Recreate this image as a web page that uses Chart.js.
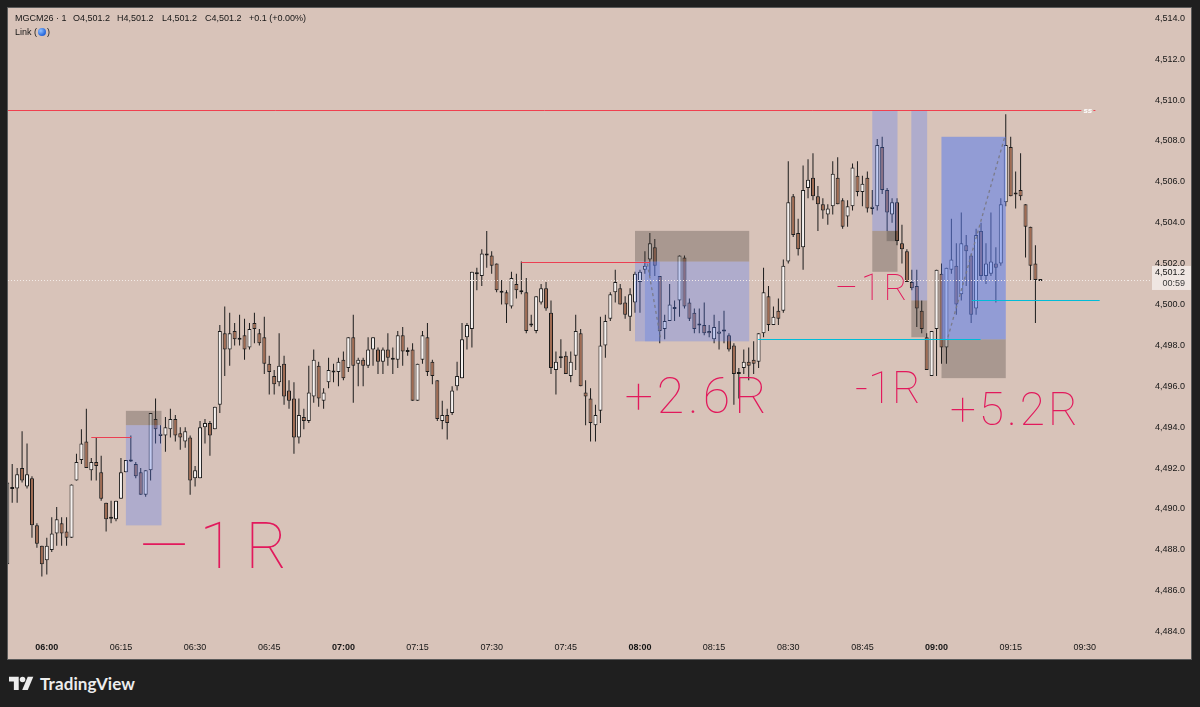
<!DOCTYPE html>
<html>
<head>
<meta charset="utf-8">
<script src="https://cdn.jsdelivr.net/npm/chart.js@4.4.1/dist/chart.umd.min.js"></script>
<style>
  body { margin: 0; width: 1200px; height: 707px; overflow: hidden; background: #1f1f1f; position: relative; font-family: "Liberation Sans", Arial, sans-serif; }
  #panel { position: absolute; left: 7px; top: 7px; width: 1183px; height: 651px; border: 1px solid #5a5a5a; background: #d8c3b9; }
  #c { position: absolute; left: 0; top: 0; }
  .lg { position: absolute; font-size: 9px; color: #161616; white-space: nowrap; line-height: 11px; }
  .dot { display: inline-block; width: 8px; height: 8px; border-radius: 50%; background: radial-gradient(circle at 35% 35%, #8fc0ff, #2f6fe0 60%, #1d4fb8); vertical-align: -1px; margin: 0 1px; }
  #logo { position: absolute; left: 9px; top: 675px; height: 16px; display: flex; align-items: center; color: #ececec; font-family: Lato, "Open Sans", sans-serif; font-weight: 700; font-size: 17px; letter-spacing: 0.1px; }
  #logo svg { margin-right: 6px; }
</style>
</head>
<body>
<div id="panel">
  <canvas id="c" width="1183" height="651"></canvas>
  <span class="lg" style="left:7px;top:5px">MGCM26 · 1</span>
  <span class="lg" style="left:65px;top:5px">O4,501.2</span>
  <span class="lg" style="left:109px;top:5px">H4,501.2</span>
  <span class="lg" style="left:154px;top:5px">L4,501.2</span>
  <span class="lg" style="left:197px;top:5px">C4,501.2</span>
  <span class="lg" style="left:241px;top:5px">+0.1 (+0.00%)</span>
  <span class="lg" style="left:7px;top:19px">Link (<span class="dot"></span>)</span>
</div>
<div id="logo">
  <svg width="25" height="14" viewBox="0 0 36 20"><path d="M14 20H7V8H0V1h14z" fill="#ececec"/><circle cx="19.5" cy="5" r="4" fill="#ececec"/><path d="M27 20h-8L27 1h8z" fill="#ececec"/></svg>
  TradingView
</div>
<script>
// MGCM26, 1 minute candles; minute 0 = 06:00
const firstMinute = -8;
const opens = [
  4487.3, 4491.0, 4491.0, 4492.0, 4491.1, 4491.5, 4489.2, 4488.2,
  4487.5, 4488.0, 4488.8, 4489.3, 4488.9, 4488.6, 4491.4, 4492.4, 4493.3, 4491.9,
  4492.3, 4491.8, 4490.3, 4489.6, 4489.5, 4490.5, 4491.8, 4492.35, 4492.2, 4491.8,
  4490.7, 4491.9, 4494.4, 4493.6, 4493.6, 4493.9, 4494.4, 4493.7, 4493.3, 4493.5,
  4491.5, 4491.5, 4494.0, 4494.2, 4493.9, 4495.1, 4498.6, 4497.8, 4498.7, 4498.3,
  4498.5, 4497.9, 4499.1, 4498.6, 4498.4, 4497.1, 4496.5, 4496.2, 4497.1, 4495.8,
  4495.4, 4493.5, 4494.5, 4494.3, 4495.5, 4497.0, 4495.3, 4496.2, 4496.7, 4496.7,
  4497.3, 4496.9, 4498.4, 4497.1, 4497.3, 4497.0, 4497.8, 4497.8, 4497.2, 4497.8,
  4497.4, 4497.3, 4498.5, 4497.7, 4497.8, 4495.3, 4497.3, 4498.4, 4497.2, 4496.3,
  4494.3, 4494.6, 4494.7, 4496.0, 4496.4, 4498.4, 4498.8, 4501.5, 4501.4, 4502.4,
  4502.4, 4502.0, 4500.6, 4500.6, 4499.9, 4501.0, 4500.6, 4500.6, 4499.0, 4498.7,
  4500.1, 4500.8, 4499.6, 4496.8, 4497.4, 4497.5, 4496.5, 4497.5, 4498.6, 4495.7,
  4495.4, 4494.1, 4494.8, 4498.0, 4499.3, 4500.6, 4500.8, 4500.1, 4499.4, 4500.1,
  4501.1, 4501.7, 4502.2, 4502.8, 4501.4, 4498.8, 4499.2, 4499.8, 4500.2, 4502.3,
  4500.1, 4499.6, 4499.0, 4499.0, 4498.7, 4498.3, 4498.6, 4498.7, 4498.5, 4498.0,
  4496.6, 4496.9, 4497.2, 4497.3, 4497.2, 4498.6, 4500.4, 4499.0, 4499.7, 4499.7,
  4502.1, 4505.3, 4503.5, 4502.8, 4505.7, 4506.2, 4505.3, 4504.9, 4504.4, 4504.8,
  4506.2, 4505.1, 4504.3, 4504.8, 4506.3, 4505.5, 4506.2, 4504.7, 4504.8, 4507.7,
  4505.6, 4504.4, 4505.0, 4503.0, 4502.6, 4501.1, 4500.9, 4499.7, 4498.4, 4496.5,
  4498.8, 4501.5, 4497.9, 4501.7, 4501.9, 4500.5, 4502.9, 4502.4, 4499.8, 4503.6,
  4501.4, 4501.5, 4502.0, 4502.0, 4505.0, 4507.7, 4505.4, 4505.6, 4504.9, 4503.8,
  4502.0, 4501.2
];
const highs = [
  4491.5, 4492.2, 4492.0, 4493.8, 4493.2, 4491.6, 4489.3, 4488.2,
  4488.6, 4489.6, 4490.1, 4489.6, 4489.6, 4491.2, 4492.7, 4493.9, 4494.9, 4492.5,
  4493.5, 4492.6, 4490.3, 4490.4, 4490.4, 4492.5, 4492.4, 4493.6, 4492.3, 4492.0,
  4491.9, 4494.7, 4495.4, 4494.1, 4494.5, 4494.9, 4494.6, 4494.0, 4494.0, 4493.6,
  4492.1, 4494.3, 4494.4, 4494.3, 4495.0, 4499.0, 4499.9, 4499.6, 4499.1, 4499.5,
  4499.3, 4499.1, 4499.6, 4498.8, 4499.4, 4497.5, 4496.8, 4498.6, 4497.5, 4496.3,
  4496.2, 4495.4, 4494.9, 4497.0, 4497.8, 4497.2, 4495.9, 4497.4, 4497.1, 4497.4,
  4497.7, 4498.4, 4499.5, 4497.4, 4497.4, 4498.4, 4498.4, 4497.9, 4497.9, 4498.6,
  4497.9, 4498.7, 4498.9, 4497.9, 4498.1, 4497.1, 4498.7, 4499.1, 4497.3, 4496.3,
  4495.3, 4494.9, 4496.0, 4497.2, 4499.1, 4499.1, 4501.6, 4501.8, 4502.7, 4503.6,
  4502.6, 4502.0, 4501.2, 4500.7, 4501.6, 4501.5, 4502.1, 4501.3, 4499.5, 4500.4,
  4501.0, 4501.1, 4500.2, 4497.7, 4498.3, 4497.7, 4497.7, 4499.5, 4498.8, 4496.3,
  4495.9, 4495.1, 4499.4, 4499.5, 4500.6, 4501.7, 4501.0, 4500.4, 4500.8, 4501.6,
  4501.7, 4502.6, 4503.5, 4503.2, 4501.4, 4499.5, 4501.0, 4500.2, 4502.4, 4502.4,
  4500.3, 4499.8, 4499.8, 4500.1, 4499.0, 4499.5, 4499.2, 4499.7, 4498.6, 4498.1,
  4496.9, 4497.8, 4497.9, 4498.2, 4498.6, 4501.8, 4500.9, 4499.9, 4500.3, 4502.2,
  4507.0, 4505.4, 4504.2, 4506.8, 4507.1, 4507.4, 4505.8, 4505.2, 4504.9, 4507.0,
  4507.2, 4505.2, 4505.1, 4506.9, 4507.0, 4506.3, 4506.5, 4505.6, 4508.1, 4508.2,
  4505.7, 4505.2, 4505.2, 4503.9, 4502.7, 4501.7, 4501.7, 4500.2, 4498.6, 4498.7,
  4501.7, 4502.0, 4501.8, 4504.2, 4503.0, 4504.5, 4503.4, 4502.5, 4503.7, 4504.0,
  4503.0, 4504.5, 4502.8, 4505.2, 4509.3, 4508.2, 4506.5, 4507.4, 4504.9, 4503.8,
  4502.9, 4501.2
];
const lows = [
  4487.2, 4490.3, 4490.3, 4491.3, 4491.0, 4488.6, 4488.1, 4486.7,
  4486.8, 4487.9, 4488.2, 4488.2, 4488.2, 4488.6, 4491.4, 4492.2, 4492.0, 4491.4,
  4491.4, 4490.4, 4488.9, 4489.3, 4489.4, 4490.5, 4491.8, 4492.3, 4491.5, 4490.7,
  4490.6, 4491.4, 4493.2, 4493.2, 4492.8, 4493.5, 4493.3, 4492.9, 4493.0, 4490.7,
  4491.1, 4491.5, 4493.2, 4492.6, 4493.9, 4494.7, 4496.5, 4497.0, 4498.0, 4498.0,
  4497.3, 4497.8, 4498.1, 4498.0, 4496.6, 4495.6, 4495.6, 4496.0, 4495.1, 4494.9,
  4492.7, 4493.2, 4493.9, 4494.2, 4495.2, 4495.0, 4494.9, 4495.9, 4496.2, 4496.0,
  4496.3, 4496.7, 4495.2, 4496.0, 4496.0, 4496.9, 4497.0, 4496.6, 4496.6, 4497.0,
  4496.6, 4496.9, 4497.0, 4497.5, 4495.3, 4495.3, 4497.1, 4496.5, 4496.1, 4494.3,
  4493.9, 4493.4, 4494.6, 4495.8, 4496.4, 4497.8, 4497.9, 4500.7, 4500.9, 4501.8,
  4501.5, 4500.6, 4500.0, 4499.1, 4499.8, 4500.3, 4500.5, 4498.6, 4498.9, 4498.6,
  4500.0, 4499.7, 4496.6, 4495.6, 4496.9, 4496.6, 4496.2, 4496.8, 4496.0, 4494.1,
  4493.3, 4493.3, 4494.2, 4497.4, 4499.2, 4500.1, 4500.0, 4499.3, 4498.7, 4499.6,
  4499.6, 4501.5, 4501.4, 4501.4, 4498.1, 4498.3, 4499.2, 4499.2, 4499.4, 4499.8,
  4499.2, 4498.6, 4498.6, 4498.5, 4498.4, 4498.1, 4497.8, 4498.1, 4497.7, 4495.1,
  4495.4, 4496.6, 4496.3, 4496.6, 4496.9, 4498.4, 4498.7, 4499.0, 4499.0, 4499.6,
  4502.0, 4503.3, 4502.4, 4501.7, 4505.2, 4505.1, 4503.6, 4504.2, 4503.9, 4504.4,
  4504.9, 4503.7, 4503.8, 4504.6, 4505.3, 4504.8, 4504.5, 4504.4, 4504.6, 4505.4,
  4503.6, 4504.0, 4502.9, 4502.0, 4501.1, 4500.7, 4498.9, 4498.6, 4496.8, 4496.5,
  4496.5, 4497.1, 4497.1, 4501.5, 4499.5, 4500.2, 4500.9, 4499.1, 4499.5, 4501.2,
  4501.0, 4501.4, 4500.1, 4501.9, 4504.8, 4505.3, 4504.7, 4505.1, 4502.3, 4501.2,
  4499.1, 4501.2
];
const closes = [
  4491.3, 4491.05, 4491.7, 4491.4, 4491.7, 4489.2, 4488.3, 4487.3,
  4488.2, 4488.8, 4489.5, 4488.8, 4488.6, 4491.2, 4492.3, 4493.2, 4492.0, 4492.3,
  4492.1, 4490.5, 4489.5, 4489.55, 4490.4, 4491.8, 4492.4, 4492.4, 4491.6, 4490.7,
  4491.9, 4494.7, 4493.9, 4493.65, 4494.0, 4494.4, 4493.6, 4493.5, 4493.8, 4491.4,
  4491.9, 4494.0, 4494.2, 4493.6, 4495.0, 4498.7, 4497.8, 4498.6, 4498.3, 4498.35,
  4497.8, 4498.8, 4498.8, 4498.1, 4497.1, 4496.7, 4496.1, 4497.0, 4495.5, 4495.3,
  4493.5, 4494.6, 4494.3, 4495.7, 4497.3, 4495.4, 4495.7, 4496.8, 4496.75, 4497.2,
  4496.4, 4498.4, 4497.0, 4497.3, 4497.0, 4497.8, 4498.4, 4497.2, 4497.8, 4497.4,
  4497.3, 4498.5, 4497.7, 4497.75, 4495.3, 4497.1, 4498.5, 4496.7, 4496.5, 4494.4,
  4494.6, 4494.2, 4495.8, 4496.5, 4498.3, 4499.0, 4501.6, 4501.55, 4502.5, 4502.5,
  4501.9, 4500.7, 4500.65, 4500.0, 4501.3, 4500.7, 4500.7, 4498.7, 4499.05, 4500.4,
  4500.8, 4499.8, 4496.9, 4497.2, 4497.45, 4496.6, 4497.2, 4498.7, 4496.0, 4495.5,
  4494.2, 4494.6, 4498.0, 4499.2, 4500.5, 4501.1, 4500.0, 4499.5, 4500.5, 4501.5,
  4501.6, 4501.9, 4503.0, 4501.9, 4498.7, 4499.2, 4500.0, 4499.85, 4502.4, 4499.9,
  4499.3, 4498.8, 4499.05, 4498.6, 4498.6, 4498.9, 4498.65, 4498.75, 4497.8, 4496.6,
  4496.7, 4497.2, 4497.0, 4497.1, 4498.6, 4500.6, 4499.0, 4499.4, 4499.3, 4501.9,
  4505.0, 4503.4, 4502.7, 4505.6, 4506.1, 4505.3, 4504.9, 4504.6, 4504.7, 4506.4,
  4504.9, 4503.8, 4504.8, 4506.7, 4505.5, 4505.9, 4504.7, 4504.75, 4507.8, 4505.6,
  4504.5, 4505.0, 4503.1, 4502.7, 4501.1, 4500.8, 4499.8, 4498.8, 4496.8, 4498.7,
  4501.7, 4497.9, 4501.8, 4502.2, 4500.0, 4503.0, 4502.6, 4499.5, 4503.4, 4501.4,
  4502.0, 4502.1, 4501.8, 4504.9, 4507.8, 4505.3, 4505.45, 4505.3, 4503.8, 4501.9,
  4501.2, 4501.2
];
const lastPrice = 4501.2;
const countdown = '00:59';

// long/short position tools (minutes, prices)
const posStart  = [16.0, 119.0, 167.0, 174.9, 181.0];
const posEnd    = [23.2, 142.1, 172.1, 178.1, 194.0];
const posEntry  = [4494.1, 4502.1, 4503.6, 4500.2, 4498.3];
const posStop   = [4494.8, 4503.6, 4501.6, 4498.4, 4496.4];
const posTarget = [4489.2, 4498.2, 4509.5, 4509.5, 4508.2];
// filled part of each position: from, to, price reached
const fillFrom  = [null, 121.0, 169.9, null, 181.0];
const fillTo    = [null, 124.0, 172.1, null, 194.0];
const fillPrice = [null, 4498.2, 4503.1, null, 4508.2];
const tradeLine = [null, [121.5, 4502.0, 124.2, 4498.3], null, null, [182.3, 4498.4, 193.8, 4508.2]];

// horizontal lines: start, end, price
const redLines  = [[9.0, 17.1, 4493.5], [96.0, 122.0, 4502.1]];
const cyanLines = [[143.9, 188.9, 4498.3], [187.1, 213.0, 4500.2]];
const levelLine = [-8, 209.3, 4509.5];

// handwritten notes
const noteText  = ['—1R', '+2.6R', '–1R', '-1R', '+5.2R'];
const noteTime  = [18.8, 116.9, 159.4, 163.5, 182.7];
const notePrice = [4487.1, 4494.7, 4500.2, 4495.2, 4494.1];

const minutes = opens.map((_, i) => firstMinute + i);
const fmtPrice = v => v.toLocaleString('en-US', { minimumFractionDigits: 1, maximumFractionDigits: 1 });
const hhmm = v => {
  const m = 360 + v;
  return String(Math.floor(m / 60)).padStart(2, '0') + ':' + String(m % 60).padStart(2, '0');
};

const upColor = '#f6f2f0', downColor = '#a06b52', edge = '#1c1c1c';
const noteSize = [64, 50, 36, 44, 46];
const noteGap = [11, 4, 3, 0, 3];

const overlay = {
  id: 'overlay',
  afterDatasetsDraw(chart) {
    const { ctx, chartArea: a, scales: { x, y } } = chart;
    const px = v => x.getPixelForValue(v), py = v => y.getPixelForValue(v);
    ctx.save();
    ctx.beginPath();
    ctx.rect(a.left, a.top, a.right - a.left, a.bottom - a.top);
    ctx.clip();

    posStart.forEach((s, i) => {
      const x0 = px(s), x1 = px(posEnd[i]);
      const ye = py(posEntry[i]), ys = py(posStop[i]), yt = py(posTarget[i]);
      ctx.fillStyle = 'rgba(60,52,50,0.3)';
      ctx.fillRect(x0, Math.min(ye, ys), x1 - x0, Math.abs(ys - ye));
      ctx.fillStyle = 'rgba(80,120,250,0.3)';
      ctx.fillRect(x0, Math.min(ye, yt), x1 - x0, Math.abs(yt - ye));
      if (fillFrom[i] != null) {
        const f0 = px(fillFrom[i]), f1 = px(fillTo[i]), yf = py(fillPrice[i]);
        const win = (fillPrice[i] - posEntry[i]) * (posTarget[i] - posEntry[i]) > 0;
        ctx.fillStyle = win ? 'rgba(95,127,232,0.35)' : 'rgba(40,34,34,0.25)';
        ctx.fillRect(f0, Math.min(ye, yf), f1 - f0, Math.abs(yf - ye));
      }
      if (tradeLine[i]) {
        const [t0, p0, t1, p1] = tradeLine[i];
        ctx.strokeStyle = 'rgba(120,120,130,0.9)';
        ctx.lineWidth = 1.3;
        ctx.setLineDash([3, 3]);
        ctx.beginPath(); ctx.moveTo(px(t0), py(p0)); ctx.lineTo(px(t1), py(p1)); ctx.stroke();
        ctx.setLineDash([]);
      }
    });

    const hline = (l, color) => {
      const yy = Math.round(py(l[2])) + 0.5;
      ctx.strokeStyle = color;
      ctx.lineWidth = 1;
      ctx.setLineDash([]);
      ctx.beginPath(); ctx.moveTo(px(l[0]), yy); ctx.lineTo(px(l[1]), yy); ctx.stroke();
    };
    redLines.forEach(l => hline(l, '#ec3f52'));
    cyanLines.forEach(l => hline(l, '#00bcd8'));
    hline(levelLine, '#f0404f');

    // current price dotted line
    const yl = Math.round(py(lastPrice)) + 0.5;
    ctx.strokeStyle = 'rgba(245,238,234,0.95)';
    ctx.setLineDash([1, 2]);
    ctx.beginPath(); ctx.moveTo(a.left, yl); ctx.lineTo(a.right, yl); ctx.stroke();
    ctx.setLineDash([]);

    // "ss" tag at the end of the level line
    ctx.fillStyle = '#ffffff';
    ctx.font = 'italic bold 8px "Liberation Sans", Arial, sans-serif';
    ctx.textBaseline = 'middle';
    ctx.fillText('ss', px(levelLine[1]) + 2, py(levelLine[2]) + 0.5);
    ctx.fillStyle = '#f0404f';
    ctx.fillRect(px(levelLine[1]) + 12, Math.round(py(levelLine[2])), 2, 1);

    // handwritten notes
    ctx.fillStyle = '#e2195c';
    ctx.textBaseline = 'alphabetic';
    noteText.forEach((t, i) => {
      ctx.font = `100 ${noteSize[i]}px Roboto, "DejaVu Sans", sans-serif`;
      ctx.letterSpacing = noteGap[i] + 'px';
      ctx.fillText(t, px(noteTime[i]), py(notePrice[i]));
    });
    ctx.letterSpacing = '0px';
    ctx.restore();
  },
  afterDraw(chart) {
    const { ctx, chartArea: a, scales: { y } } = chart;
    const yl = y.getPixelForValue(lastPrice);
    ctx.save();
    ctx.strokeStyle = 'rgba(245,238,234,0.95)';
    ctx.setLineDash([1, 2]);
    ctx.beginPath(); ctx.moveTo(a.right, Math.round(yl) + 0.5); ctx.lineTo(1144, Math.round(yl) + 0.5); ctx.stroke();
    ctx.setLineDash([]);
    ctx.fillStyle = '#efe6e2';
    ctx.fillRect(1144, yl - 14, 39, 24);
    ctx.font = '9px "Liberation Sans", Arial, sans-serif';
    ctx.textAlign = 'right';
    ctx.textBaseline = 'middle';
    ctx.fillStyle = '#161616';
    ctx.fillText(fmtPrice(lastPrice), 1177, yl - 7);
    ctx.fillStyle = '#3a3a3a';
    ctx.fillText(countdown, 1177, yl + 4);
    ctx.restore();
  }
};

new Chart(document.getElementById('c'), {
  type: 'bar',
  data: {
    datasets: [
      {
        data: minutes.map((t, i) => ({ x: t, y: [lows[i], highs[i]] })),
        backgroundColor: edge,
        barThickness: 1,
        borderWidth: 0,
        inflateAmount: 0,
        grouped: false,
        order: 2
      },
      {
        data: minutes.map((t, i) => {
          let o = opens[i], c = closes[i];
          if (Math.abs(o - c) < 0.1) { const m = (o + c) / 2; o = m - 0.05; c = m + 0.05; }
          return { x: t, y: [o, c] };
        }),
        backgroundColor: minutes.map((_, i) => closes[i] >= opens[i] ? upColor : downColor),
        borderColor: edge,
        borderWidth: 1,
        borderSkipped: false,
        barThickness: 4,
        inflateAmount: 0,
        grouped: false,
        order: 1
      }
    ]
  },
  options: {
    responsive: false,
    animation: false,
    layout: { padding: { right: 6 } },
    plugins: { legend: { display: false }, tooltip: { enabled: false } },
    scales: {
      x: {
        type: 'linear',
        offset: false,
        min: -7.85,
        max: 218.73,
        grid: { display: false, drawTicks: false },
        border: { display: false },
        ticks: {
          stepSize: 15,
          includeBounds: false,
          maxRotation: 0,
          autoSkip: false,
          padding: 6,
          color: '#161616',
          font: ctx => ({ family: '"Liberation Sans", Arial, sans-serif', size: 9, weight: ctx.tick && ctx.tick.value % 60 === 0 ? 'bold' : 'normal' }),
          callback: v => hhmm(v)
        },
        afterFit: s => { s.height = 23; s.paddingLeft = 0; s.paddingRight = 0; }
      },
      y: {
        position: 'right',
        min: 4483.79,
        max: 4514.5,
        beginAtZero: false,
        grid: { display: false, drawTicks: false },
        border: { display: false },
        ticks: {
          stepSize: 2,
          includeBounds: false,
          crossAlign: 'far',
          color: '#161616',
          font: { family: '"Liberation Sans", Arial, sans-serif', size: 9 },
          callback: v => fmtPrice(v)
        },
        afterFit: s => { s.width = 57; s.paddingTop = 0; s.paddingBottom = 0; }
      }
    }
  },
  plugins: [overlay]
});
</script>
</body>
</html>
